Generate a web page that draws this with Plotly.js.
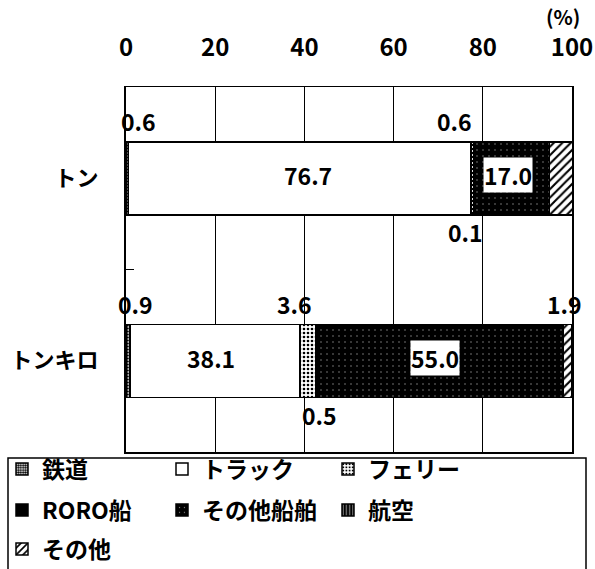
<!DOCTYPE html>
<html>
<head>
<meta charset="utf-8">
<script src="https://cdn.plot.ly/plotly-3.0.1.min.js"></script>
<style>html,body{margin:0;padding:0;background:#fff;}#chart{width:595px;height:569px;}</style>
</head>
<body>
<div id="chart"></div>
<script>
// ---- data ----
const categories = ["トン", "トンキロ"];
const seriesNames = ["鉄道", "トラック", "フェリー", "RORO船", "その他船舶", "航空", "その他"];
const rail = [0.6, 0.9];
const truck = [76.7, 38.1];
const ferry = [0.6, 3.6];
const roro = [0.1, 0.5];
const otherShip = [17.0, 55.0];
const air = [0.0, 0.0];
const other = [5.1, 1.9];
const xTicks = [0, 20, 40, 60, 80, 100];

const seriesValues = [rail, truck, ferry, roro, otherShip, air, other];

// ---- styles ----
const FONT = '"Noto Sans CJK JP", "Noto Sans", sans-serif';
const patterns = [
  {shape: '.', fgcolor: '#000', bgcolor: '#fff', size: 3, solidity: 0.6},
  {shape: '', fgcolor: '#000', bgcolor: '#fff'},
  {shape: '.', fgcolor: '#000', bgcolor: '#fff', size: 4, solidity: 0.35},
  {shape: '', fgcolor: '#000', bgcolor: '#000'},
  {shape: '.', fgcolor: '#888', bgcolor: '#000', size: 6, solidity: 0.05},
  {shape: '|', fgcolor: '#fff', bgcolor: '#000', size: 4, solidity: 0.2},
  {shape: '/', fgcolor: '#000', bgcolor: '#fff', size: 6, solidity: 0.35}
];
const baseColors = ['#fff', '#fff', '#fff', '#000', '#000', '#000', '#fff'];
// legend slot per series: [left px of legend box, centre y px of row]
const legendSlots = [[2, 469], [162, 469], [328, 469], [2, 510], [162, 510], [328, 510], [2, 549]];
const legendIds = seriesNames.map((_, i) => i === 0 ? 'legend' : 'legend' + (i + 1));

const traces = seriesNames.map((name, i) => ({
  type: 'bar',
  orientation: 'h',
  name: name,
  y: categories,
  x: seriesValues[i],
  legend: legendIds[i],
  marker: {
    color: baseColors[i],
    pattern: patterns[i],
    line: {color: '#000', width: 1.5}
  },
  hoverinfo: 'skip'
}));

// cumulative positions from data
function segStart(s, c) { let t = 0; for (let k = 0; k < s; k++) t += seriesValues[k][c]; return t; }
function segEnd(s, c) { return segStart(s, c) + seriesValues[s][c]; }

// label placement rules (style only)
const labelRules = [
  {c: 0, s: 0, at: 'start', pos: 'above', xanchor: 'left', xshift: -6},
  {c: 0, s: 1, at: 'mid', pos: 'in', xshift: 8},
  {c: 0, s: 2, at: 'end', pos: 'above', xanchor: 'right', xshift: 0},
  {c: 0, s: 3, at: 'end', pos: 'below', xanchor: 'right', xshift: 10},
  {c: 0, s: 4, at: 'mid', pos: 'in', box: true, xshift: -4},
  {c: 0, s: 6, at: 'end', pos: 'above', xanchor: 'right', xshift: 1},
  {c: 1, s: 0, at: 'start', pos: 'above', xanchor: 'left', xshift: -9},
  {c: 1, s: 1, at: 'mid', pos: 'in', xshift: -4},
  {c: 1, s: 2, at: 'end', pos: 'above', xanchor: 'right', xshift: -3},
  {c: 1, s: 3, at: 'end', pos: 'below', xanchor: 'center', xshift: 1},
  {c: 1, s: 4, at: 'mid', pos: 'in', box: true, xshift: -6},
  {c: 1, s: 6, at: 'end', pos: 'above', xanchor: 'right', xshift: 11}
];

const annotations = labelRules.map(r => {
  let x;
  if (r.at === 'start') x = segStart(r.s, r.c);
  else if (r.at === 'end') x = segEnd(r.s, r.c);
  else x = (segStart(r.s, r.c) + segEnd(r.s, r.c)) / 2;
  const yshift = r.pos === 'above' ? 57 : (r.pos === 'below' ? -54 : 3);
  return {
    x: x, y: categories[r.c], xref: 'x', yref: 'y',
    text: seriesValues[r.s][r.c].toFixed(1),
    showarrow: false,
    xanchor: r.xanchor || 'center', yanchor: 'middle',
    xshift: r.xshift || 0, yshift: yshift,
    bgcolor: r.box ? '#fff' : 'rgba(0,0,0,0)',
    borderpad: 0,
    font: {family: FONT, size: 23, color: '#000', weight: 'bold'}
  };
});
annotations.push({
  x: 100, y: 1, xref: 'x', yref: 'paper', text: '(%)', showarrow: false,
  xanchor: 'center', yanchor: 'middle', yshift: 71, xshift: -9,
  font: {family: FONT, size: 20, color: '#000', weight: 'bold'}
});

const W = 446, H = 365; // plot area px
const L = 126, T = 87;
const layout = {
  width: 595, height: 569,
  margin: {l: 126, r: 23, t: 87, b: 117, autoexpand: false},
  paper_bgcolor: '#fff', plot_bgcolor: '#fff',
  barmode: 'stack', bargap: 0.6,
  showlegend: true,
  xaxis: {
    side: 'top', range: [0, 100], tickvals: xTicks, ticktext: xTicks.map(String),
    showgrid: true, gridcolor: '#000', gridwidth: 1,
    showline: true, linecolor: '#000', linewidth: 1.5, mirror: true,
    ticks: '', ticklabelstandoff: 20, zeroline: false,
    tickfont: {family: FONT, size: 24, color: '#000', weight: 'bold'},
    fixedrange: true, automargin: false
  },
  yaxis: {
    type: 'category', categoryorder: 'array', categoryarray: categories,
    autorange: 'reversed',
    showline: true, linecolor: '#000', linewidth: 2, mirror: true,
    ticks: 'inside', tickson: 'boundaries', ticklen: 8, tickcolor: '#000', tickwidth: 1,
    ticklabelstandoff: 21, showgrid: false,
    tickfont: {family: FONT, size: 22, color: '#000', weight: 'bold'},
    fixedrange: true, automargin: false
  },
  shapes: [{
    type: 'rect', xref: 'paper', yref: 'paper',
    x0: (8 - L) / W, x1: (586 - L) / W,
    y0: (T + H - 458) / H, y1: (T + H - 580) / H,
    line: {color: '#000', width: 1.5}, fillcolor: 'rgba(0,0,0,0)', layer: 'above'
  }],
  annotations: annotations
};
legendIds.forEach((id, i) => {
  layout[id] = {
    orientation: 'h', xanchor: 'left', yanchor: 'middle',
    xref: 'paper', yref: 'paper',
    x: (legendSlots[i][0] - L) / W,
    y: (T + H - legendSlots[i][1]) / H,
    bgcolor: 'rgba(0,0,0,0)', borderwidth: 0,
    font: {family: FONT, size: 23, color: '#000', weight: 'bold'}
  };
});

Plotly.newPlot('chart', traces, layout, {displayModeBar: false, staticPlot: true});
</script>
</body>
</html>
